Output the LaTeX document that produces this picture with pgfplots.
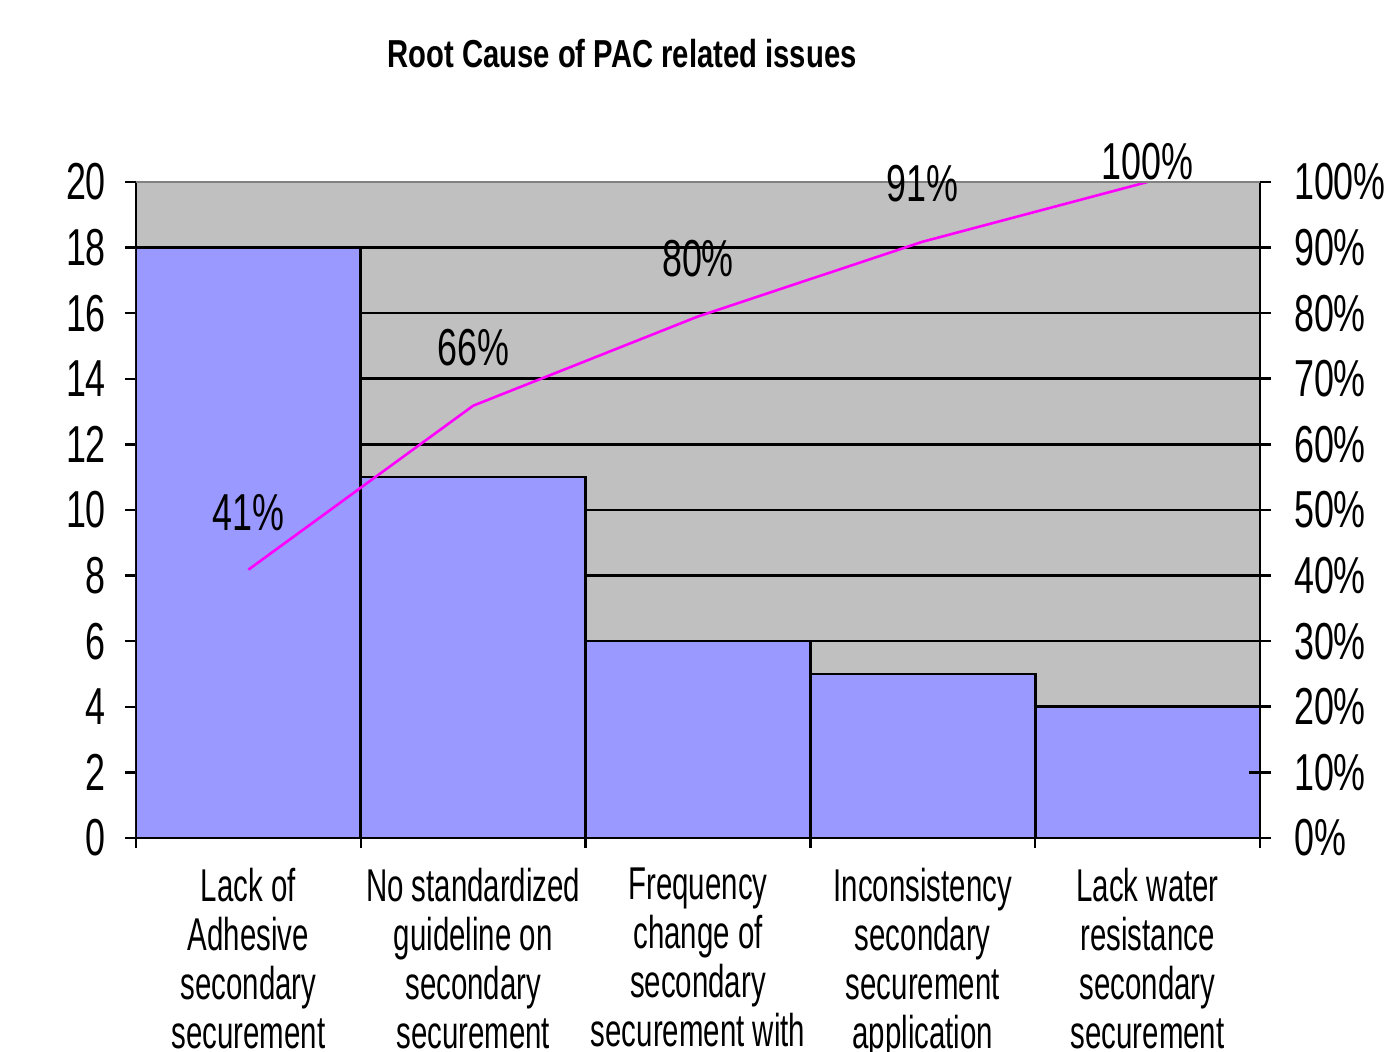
\documentclass[border=0pt]{standalone}
\usepackage{pgfplots}
\pgfplotsset{compat=1.18}
\usepackage{fontspec}
\setmainfont{Liberation Sans}
\newfontfamily\tickfont[FakeStretch=0.69]{Liberation Sans}
\newfontfamily\catfont[FakeStretch=0.64]{Liberation Sans}
\newfontfamily\titlefont[FakeStretch=0.75]{Liberation Sans}
\definecolor{plotbg}{HTML}{C0C0C0}
\definecolor{barblue}{HTML}{9999FF}
\definecolor{linemag}{HTML}{FF00FF}
\definecolor{topgray}{HTML}{808080}
\begin{document}
\begin{tikzpicture}[x=1pt,y=1pt]
\useasboundingbox (0,0) rectangle (697,526);
\node[font=\titlefont\bfseries\fontsize{19.5}{20}\selectfont] at (311,499) {Root Cause of PAC related issues};
\begin{axis}[
  at={(68pt,107pt)}, anchor=south west, scale only axis,
  width=562pt, height=328pt,
  xmin=-0.5, xmax=4.5, ymin=0, ymax=20,
  axis x line*=bottom, axis y line*=left,
  axis line style={black, line width=1.3pt},
  axis background/.style={fill=plotbg},
  ytick={0,2,...,20},
  ymajorgrids, grid style={black, line width=1.3pt},
  tick align=outside, major tick length=5.5pt,
  tick style={black, line width=1.2pt},
  xtick={0,1,2,3,4},
  major x tick style={draw=none},
  minor xtick={-0.5,0.5,1.5,2.5,3.5,4.5},
  minor x tick style={black, line width=1.2pt},
  minor tick length=5pt,
  xticklabels={{Lack of\\Adhesive\\secondary\\securement},
               {No standardized\\guideline on\\secondary\\securement},
               {Frequency\\change of\\secondary\\securement  with},
               {Inconsistency\\secondary\\securement\\application},
               {Lack water\\resistance\\secondary\\securement}},
  xticklabel style={align=center, anchor=north, yshift=-6pt,
    font=\catfont\fontsize{23}{24.5}\selectfont},
  /pgf/number format/assume math mode=true,
  yticklabel style={font=\tickfont\fontsize{26}{26}\selectfont, xshift=-6pt},
]
\addplot[ybar, bar width=1, fill=barblue, draw=black, line width=1.3pt]
  coordinates {(0,18) (1,11) (2,6) (3,5) (4,4)};
\end{axis}
\begin{axis}[
  at={(68pt,107pt)}, anchor=south west, scale only axis,
  width=562pt, height=328pt,
  xmin=-0.5, xmax=4.5, ymin=0, ymax=1,
  axis x line=none, axis y line*=right,
  axis line style={black, line width=1.3pt},
  ytick={0,0.1,0.2,0.3,0.4,0.5,0.6,0.7,0.8,0.9,1},
  yticklabels={0\%,10\%,20\%,30\%,40\%,50\%,60\%,70\%,80\%,90\%,100\%},
  tick align=center, major tick length=11pt,
  ytick style={black, line width=1.3pt},
  yticklabel style={font=\tickfont\fontsize{26}{26}\selectfont, xshift=8pt},
  clip=false,
]
\addplot[linemag, line width=1.3pt, nodes near coords, point meta=explicit symbolic,
  nodes near coords style={font=\tickfont\fontsize{26}{26}\selectfont, text=black, anchor=south, inner sep=0pt, yshift=19pt}]
  coordinates {(0,0.409)[41\%] (1,0.659)[66\%] (2,0.795)[80\%] (3,0.909)[91\%] (4,1)[]};
\addplot[draw=none, nodes near coords, point meta=explicit symbolic,
  nodes near coords style={font=\tickfont\fontsize{26}{26}\selectfont, text=black, anchor=south, inner sep=0pt, yshift=1pt}]
  coordinates {(4,1)[100\%]};
\draw[topgray, line width=1pt] (rel axis cs:0,1) -- (rel axis cs:1,1);
\pgfplotsinvokeforeach{0,0.1,0.2,0.3,0.4,0.5,0.6,0.7,0.8,0.9,1}{
  \draw[black, line width=1.3pt] (axis cs:4.5,#1) -- ([xshift=5.5pt]axis cs:4.5,#1);
}
\end{axis}
\end{tikzpicture}
\end{document}
